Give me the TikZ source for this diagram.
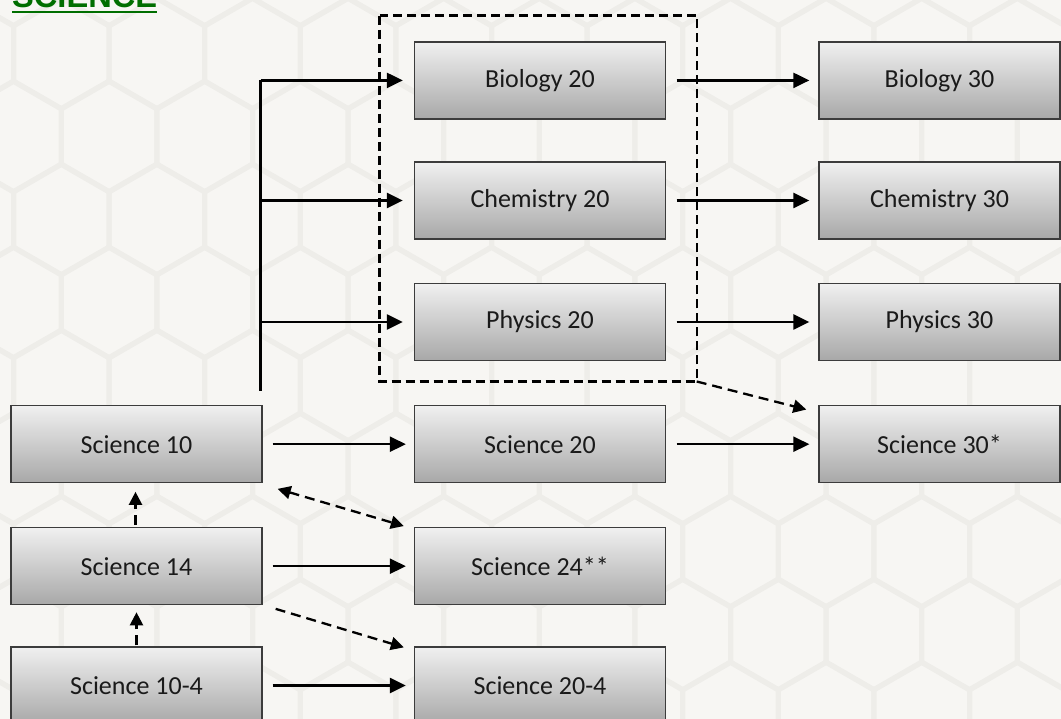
\documentclass[tikz,border=0pt]{standalone}
\usepackage{fontspec}
\setmainfont{Carlito}
\newfontfamily\titlefont{Liberation Sans}
\usetikzlibrary{arrows.meta,calc}
\definecolor{bgcol}{HTML}{F7F6F3}
\definecolor{hexcol}{HTML}{EEEDE9}
\definecolor{titlegreen}{RGB}{0,110,0}
\definecolor{boxborder}{HTML}{3C3C3C}
\definecolor{boxtop}{HTML}{F0F0F0}
\definecolor{boxmid}{HTML}{DADADA}
\definecolor{boxbot}{HTML}{A8A8A8}
\definecolor{textcol}{HTML}{1A1A1A}
\tikzset{
  course/.style={draw=boxborder, line width=1.3pt, top color=boxtop, middle color=boxmid, bottom color=boxbot,
    minimum height=77pt, inner sep=0pt, text=textcol, font=\fontsize{26}{30}\selectfont},
  wcol/.style={course, minimum width=251pt},
  ncol/.style={course, minimum width=241pt},
  solidarrow/.style={line width=2.3pt, -{Triangle[length=16pt,width=15pt]}},
  dasharrow/.style={line width=2.3pt, dash pattern=on 10pt off 6pt, -{Triangle[length=13pt,width=13pt]}},
  dasharrows/.style={line width=2.3pt, dash pattern=on 10pt off 6pt, {Triangle[length=13pt,width=13pt]}-{Triangle[length=13pt,width=13pt]}},
  dashbox/.style={line width=2.4pt, dash pattern=on 9pt off 5pt},
  plainline/.style={line width=2.3pt},
  hexline/.style={draw=hexcol, line width=5pt, line join=round}
}
\begin{document}
\begin{tikzpicture}[x=1pt,y=-1pt]
\clip (0,0) rectangle (1061,719);
\fill[bgcol] (0,0) rectangle (1061,719);
% honeycomb background
\foreach \j in {-7,...,2}{
  \foreach \i in {-8,...,4}{
    \pgfmathsetmacro\cx{730.5+95.6*\i+47.8*mod(abs(\j),2)}
    \pgfmathsetmacro\cy{551.5+83*\j}
    \draw[hexline] ({\cx},{\cy-55.2}) -- ({\cx+47.8},{\cy-27.6}) -- ({\cx+47.8},{\cy+27.6}) -- ({\cx},{\cy+55.2}) -- ({\cx-47.8},{\cy+27.6}) -- ({\cx-47.8},{\cy-27.6}) -- cycle;
  }
}
% title
\node[anchor=base west, inner sep=0pt, text=titlegreen, font=\titlefont\bfseries\fontsize{32.6}{36}\selectfont] (title) at (12,7.5) {SCIENCE};
\fill[titlegreen] (12,11) rectangle (157,13);
% boxes
\node[wcol] (bio20) at (540,80.4) {Biology 20};
\node[wcol] (chem20) at (540,200.5) {Chemistry 20};
\node[wcol] (phys20) at (540,322) {Physics 20};
\node[ncol] (bio30) at (939.5,80.4) {Biology 30};
\node[ncol] (chem30) at (939.5,200.5) {Chemistry 30};
\node[ncol] (phys30) at (939.5,322) {Physics 30};
\node[wcol] (s10) at (136.5,444.2) {Science 10};
\node[wcol] (s20) at (540,444.2) {Science 20};
\node[ncol] (s30) at (939.5,444.2) {Science 30*};
\node[wcol] (s14) at (136.5,566.2) {Science 14};
\node[wcol] (s24) at (540,566.2) {Science 24**};
\node[wcol] (s104) at (136.5,685.5) {Science 10-4};
\node[wcol] (s204) at (540,685.5) {Science 20-4};
% dashed frame
\coordinate (dbtl) at (379.5,15.7);
\coordinate (dbbr) at (696.7,381.5);
\draw[dashbox] (dbtl) rectangle (dbbr);
% bracket
\coordinate (brtop) at (260.5,80.4);
\coordinate (brbot) at (260.5,391);
\draw[plainline] (brtop) -- (brbot);
\draw[solidarrow] (brtop) -- ($(bio20.west)+(-11,0)$);
\draw[solidarrow] (brtop |- chem20.west) -- ($(chem20.west)+(-11,0)$);
\draw[solidarrow] (brtop |- phys20.west) -- ($(phys20.west)+(-11,0)$);
% 20 -> 30
\draw[solidarrow] ($(bio20.east)+(10.5,0)$) -- ($(bio30.west)+(-9,0)$);
\draw[solidarrow] ($(chem20.east)+(10.5,0)$) -- ($(chem30.west)+(-9,0)$);
\draw[solidarrow] ($(phys20.east)+(10.5,0)$) -- ($(phys30.west)+(-9,0)$);
\draw[solidarrow] ($(s20.east)+(10.5,0)$) -- ($(s30.west)+(-9,0)$);
% left column -> middle
\draw[solidarrow] ($(s10.east)+(10,0)$) -- ($(s20.west)+(-8,0)$);
\draw[solidarrow] ($(s14.east)+(10,0)$) -- ($(s24.west)+(-8,0)$);
\draw[solidarrow] ($(s104.east)+(10,0)$) -- ($(s204.west)+(-8,0)$);
% dashed connectors
\draw[dasharrow] (dbbr) -- ($(s30.north west)+(-12,4.5)$);
\draw[dasharrow] ($(s14.north)+(-1,-2)$) -- ($(s10.south)+(-1,8.5)$);
\draw[dasharrow] ($(s104.north)+(0,-1)$) -- ($(s14.south)+(0,7)$);
\draw[dasharrows] ($(s10.south east)+(15,5.5)$) -- ($(s24.north west)+(-10,-1)$);
\draw[dasharrow] ($(s14.south east)+(13,3.5)$) -- ($(s204.north west)+(-10,1)$);
\end{tikzpicture}
\end{document}
